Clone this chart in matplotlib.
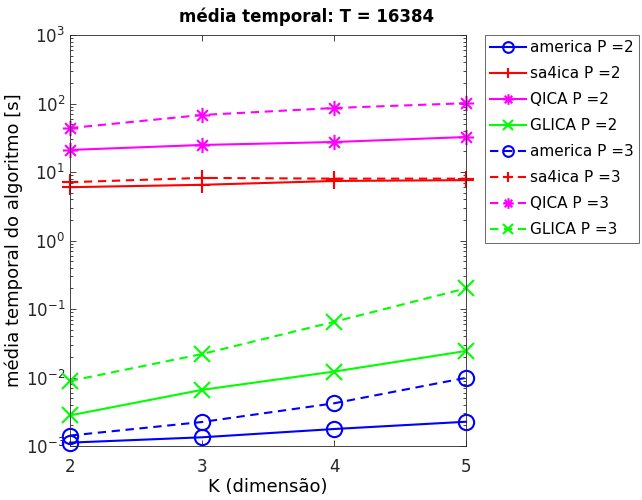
import matplotlib
matplotlib.use("Agg")
import matplotlib.pyplot as plt
from matplotlib.path import Path
from matplotlib.ticker import LogLocator, NullFormatter

K = [2, 3, 4, 5]

america_p2 = [0.00112, 0.00134, 0.00177, 0.00226]
sa4ica_p2 = [6.0, 6.5, 7.4, 7.6]
qica_p2 = [21.0, 24.8, 27.4, 32.4]
glica_p2 = [0.0028, 0.0066, 0.0122, 0.0244]

america_p3 = [0.00142, 0.00224, 0.0042, 0.0099]
sa4ica_p3 = [7.1, 8.2, 8.0, 8.0]
qica_p3 = [43.8, 68.0, 86.0, 101.0]
glica_p3 = [0.0089, 0.022, 0.065, 0.20]

# MATLAB-style '*' marker: four open strokes (plus and cross combined)
d = 0.7071
ASTERISK = Path(
    [(0, -1), (0, 1), (-1, 0), (1, 0), (-d, -d), (d, d), (-d, d), (d, -d)],
    [Path.MOVETO, Path.LINETO] * 4,
)
DASHED = (0, (4, 2.7))

series = [
    ("america P =2", america_p2, "#0000ff", "o", "-"),
    ("sa4ica P =2", sa4ica_p2, "#ff0000", "+", "-"),
    ("QICA P =2", qica_p2, "#ff00ff", ASTERISK, "-"),
    ("GLICA P =2", glica_p2, "#00ff00", "x", "-"),
    ("america P =3", america_p3, "#0000ff", "o", DASHED),
    ("sa4ica P =3", sa4ica_p3, "#ff0000", "+", DASHED),
    ("QICA P =3", qica_p3, "#ff00ff", ASTERISK, DASHED),
    ("GLICA P =3", glica_p3, "#00ff00", "x", DASHED),
]

plt.rcParams["font.family"] = ["DejaVu Sans"]

fig = plt.figure(figsize=(6.42, 5.0), dpi=100)
ax = fig.add_axes([0.109, 0.108, 0.617, 0.822])

for label, vals, color, marker, ls in series:
    ax.plot(K, vals, color=color, marker=marker, linestyle=ls, linewidth=1.5,
            markersize=11, markerfacecolor="none", markeredgewidth=1.5,
            label=label, clip_on=False)

ax.set_yscale("log")
ax.set_ylim(1e-3, 1e3)
ax.set_xlim(2, 5)
ax.set_xticks(K)
ax.yaxis.set_major_locator(LogLocator(base=10, numticks=10))
ax.yaxis.set_minor_locator(LogLocator(base=10, subs=range(2, 10), numticks=10))
ax.yaxis.set_minor_formatter(NullFormatter())
ax.tick_params(which="both", direction="in", top=True, right=True,
               labelsize=12, colors="#262626", width=0.6)
ax.tick_params(which="major", length=4)
ax.tick_params(which="minor", length=2)
ax.tick_params(axis="x", pad=9)
for s in ax.spines.values():
    s.set_color("#262626")
    s.set_linewidth(0.6)

fig.text(0.478, 0.966, "média temporal: T = 16384", fontsize=12, fontweight="bold",
         ha="center", va="center")
ax.set_xlabel("K (dimensão)", fontsize=13, labelpad=1)
ax.set_ylabel("média temporal do algoritmo [s]", fontsize=13, labelpad=2)

leg = ax.legend(loc="upper left", bbox_to_anchor=(1.048, 1.0), borderaxespad=0,
                fontsize=11, frameon=True, fancybox=False, edgecolor="#262626",
                handlelength=2.3, handletextpad=0.3, borderpad=0.35,
                labelspacing=0.72, markerscale=0.7)
leg.get_frame().set_linewidth(0.6)

fig.savefig("out.png", dpi=100)
